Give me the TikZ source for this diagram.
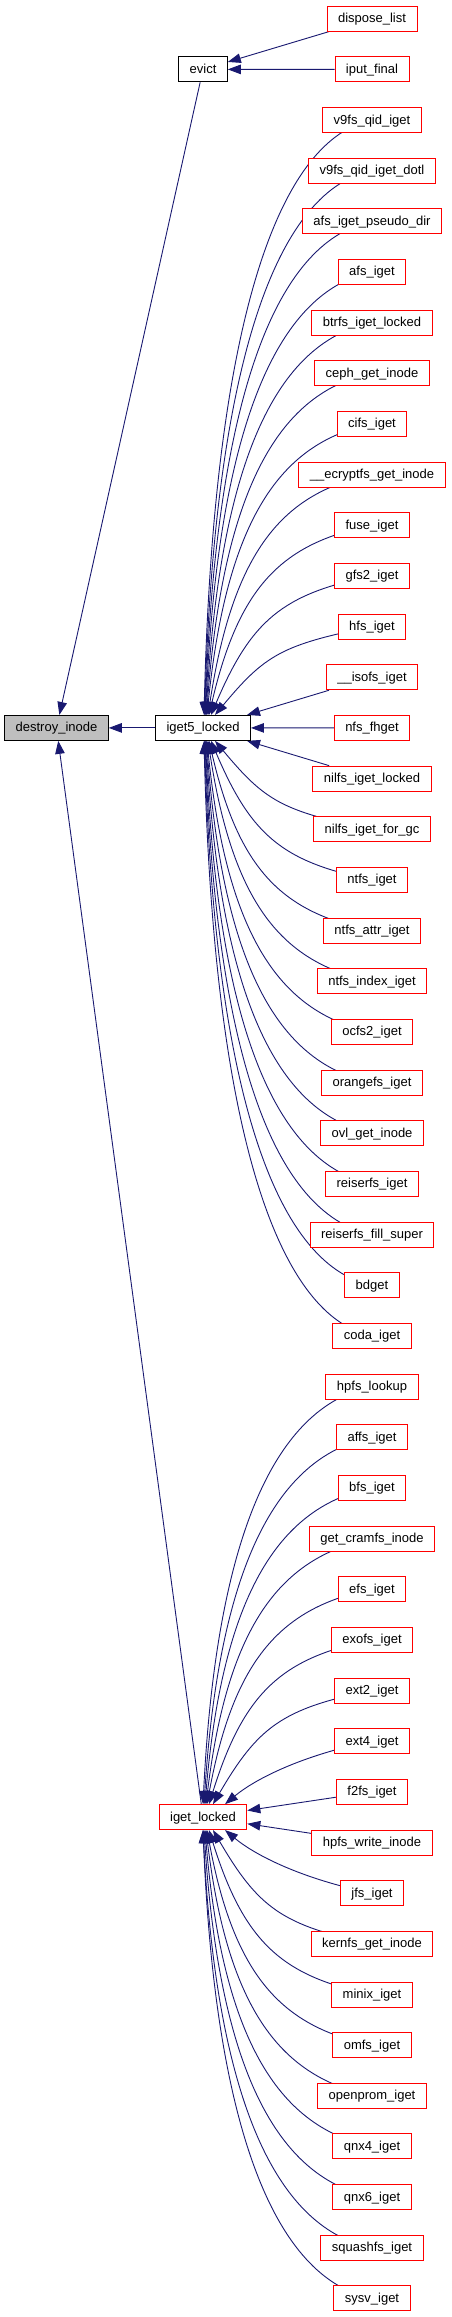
\documentclass[tikz,border=0pt]{standalone}
\usepackage{fontspec}
\setmainfont{Liberation Sans}
\usetikzlibrary{arrows.meta}
\pgfdeclarelayer{bg}
\pgfsetlayers{bg,main}
\definecolor{edgec}{HTML}{191970}
\definecolor{grayf}{HTML}{BFBFBF}
\tikzset{
 fn/.style={draw=red, line width=0.9pt, fill=white, minimum height=25pt, inner xsep=11pt, inner ysep=0pt, text height=10pt, text depth=2pt, font=\fontsize{13}{15}\selectfont},
 fnb/.style={fn, draw=black},
 fng/.style={fn, draw=black, fill=grayf},
 edge/.style={draw=edgec, line width=0.9pt, -{Triangle[length=13pt,width=9.5pt]}},
}
\newcommand\ua[5]{\draw[edge] (#1.center) .. controls +(-90,18) and +(#4,-#5) .. ([xshift=#3pt]#2.north);}
\newcommand\da[5]{\draw[edge] (#1.center) .. controls +(-90,-18) and +(#4,#5) .. ([xshift=#3pt]#2.south);}
\begin{document}
\begin{tikzpicture}[x=1pt,y=-1pt]
\useasboundingbox (0,0) rectangle (451,2317);
\node[fng] (destroy) at (56.5,727.9) {destroy\_inode};
\node[fnb] (evict) at (203,69.4) {evict};
\node[fnb] (iget5) at (203,727.9) {iget5\_locked};
\node[fn] (igetl) at (203,1817.1) {iget\_locked};
\foreach \t [count=\i from 0] in {dispose\_list, iput\_final, v9fs\_qid\_iget, v9fs\_qid\_iget\_dotl, afs\_iget\_pseudo\_dir, afs\_iget, btrfs\_iget\_locked, ceph\_get\_inode, cifs\_iget, \_\_ecryptfs\_get\_inode, fuse\_iget, gfs2\_iget, hfs\_iget, \_\_isofs\_iget, nfs\_fhget, nilfs\_iget\_locked, nilfs\_iget\_for\_gc, ntfs\_iget, ntfs\_attr\_iget, ntfs\_index\_iget, ocfs2\_iget, orangefs\_iget, ovl\_get\_inode, reiserfs\_iget, reiserfs\_fill\_super, bdget, coda\_iget, hpfs\_lookup, affs\_iget, bfs\_iget, get\_cramfs\_inode, efs\_iget, exofs\_iget, ext2\_iget, ext4\_iget, f2fs\_iget, hpfs\_write\_inode, jfs\_iget, kernfs\_get\_inode, minix\_iget, omfs\_iget, openprom\_iget, qnx4\_iget, qnx6\_iget, squashfs\_iget, sysv\_iget}
  \node[fn] (n\i) at (372,18.7+50.66*\i) {\t};
\begin{pgfonlayer}{bg}
\draw[edge] (n0) -- (evict);
\draw[edge] (n1) -- (evict);
\draw[edge] (evict) -- (destroy);
\draw[edge] (iget5) -- (destroy);
\draw[edge] (igetl) -- (destroy);
\draw[edge] (n14) -- (iget5);
% callers of iget5_locked above
\ua{n2}{iget5}{1}{10}{405}
\ua{n3}{iget5}{1.5}{11}{370}
\ua{n4}{iget5}{2}{12}{336}
\ua{n5}{iget5}{2.5}{13}{301}
\ua{n6}{iget5}{3}{15}{267}
\ua{n7}{iget5}{3.5}{17}{232}
\ua{n8}{iget5}{4}{20}{198}
\ua{n9}{iget5}{5}{25}{163}
\ua{n10}{iget5}{6}{30}{129}
\ua{n11}{iget5}{8}{40}{94}
\ua{n12}{iget5}{12}{50}{60}
\draw[edge] (n13) -- ([xshift=44pt]iget5.north);
% below
\draw[edge] (n15) -- ([xshift=44pt]iget5.south);
\da{n16}{iget5}{12}{50}{60}
\da{n17}{iget5}{8}{40}{94}
\da{n18}{iget5}{6}{30}{129}
\da{n19}{iget5}{5}{25}{163}
\da{n20}{iget5}{4}{20}{198}
\da{n21}{iget5}{3.5}{17}{232}
\da{n22}{iget5}{3}{15}{267}
\da{n23}{iget5}{2.5}{13}{301}
\da{n24}{iget5}{2}{12}{336}
\da{n25}{iget5}{1.5}{11}{370}
\da{n26}{iget5}{1}{10}{405}
% callers of iget_locked above
\ua{n27}{igetl}{0}{14}{284}
\ua{n28}{igetl}{1}{16}{250}
\ua{n29}{igetl}{2}{18}{215}
\ua{n30}{igetl}{3}{22}{181}
\ua{n31}{igetl}{4}{27}{146}
\ua{n32}{igetl}{6}{35}{112}
\ua{n33}{igetl}{10}{45}{77}
\draw[edge] (n34.center) .. controls +(-70,14) and +(30,-25) .. ([xshift=22pt]igetl.north);
\draw[edge] (n35) -- (igetl);
% below
\draw[edge] (n36) -- (igetl);
\draw[edge] (n37.center) .. controls +(-70,-14) and +(30,25) .. ([xshift=22pt]igetl.south);
\da{n38}{igetl}{10}{45}{77}
\da{n39}{igetl}{6}{35}{112}
\da{n40}{igetl}{4}{27}{146}
\da{n41}{igetl}{3}{22}{181}
\da{n42}{igetl}{2}{18}{215}
\da{n43}{igetl}{1}{16}{250}
\da{n44}{igetl}{0}{14}{284}
\da{n45}{igetl}{0}{13}{318}
\end{pgfonlayer}
\end{tikzpicture}
\end{document}
